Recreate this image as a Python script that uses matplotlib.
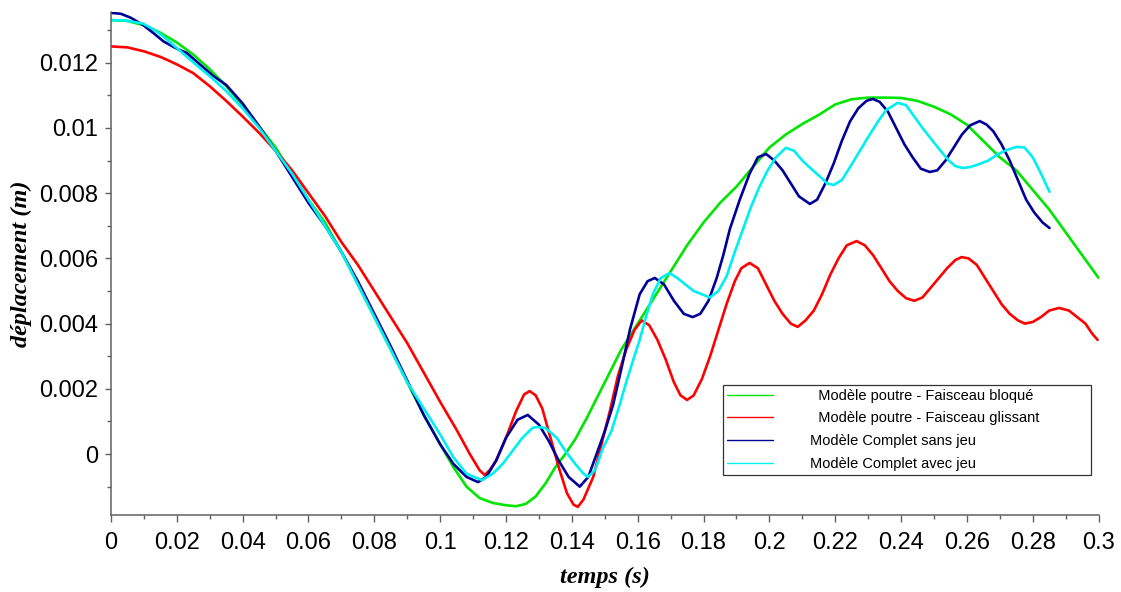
import matplotlib
matplotlib.use('Agg')
import matplotlib.pyplot as plt
from matplotlib.ticker import MultipleLocator, FuncFormatter

# Modèle poutre - Faisceau bloqué
t_bloque = [0, 0.005, 0.01, 0.015, 0.02, 0.025, 0.03, 0.035, 0.04, 0.045, 0.05, 0.055,
            0.06, 0.065, 0.07, 0.075, 0.08, 0.085, 0.09, 0.095, 0.1, 0.104, 0.108,
            0.112, 0.116, 0.12, 0.123, 0.126, 0.129, 0.132, 0.135, 0.138, 0.141,
            0.1445, 0.148, 0.1515, 0.155, 0.16, 0.165, 0.17, 0.175, 0.18, 0.185, 0.19,
            0.195, 0.2, 0.205, 0.21, 0.215, 0.22, 0.225, 0.23, 0.235, 0.24, 0.245,
            0.25, 0.255, 0.26, 0.265, 0.27, 0.275, 0.28, 0.285, 0.29, 0.295, 0.3]
y_bloque = [0.01331, 0.01328, 0.01315, 0.01292, 0.01262, 0.01225, 0.0118, 0.01128,
            0.0107, 0.01005, 0.0094, 0.0086, 0.0078, 0.0071, 0.0062, 0.0052, 0.0042,
            0.0032, 0.0022, 0.0012, 0.0003, -0.0004, -0.001, -0.00135, -0.0015,
            -0.00157, -0.0016, -0.00153, -0.0013, -0.0009, -0.0004, 0.0, 0.00045,
            0.0011, 0.0018, 0.0025, 0.0032, 0.004, 0.0048, 0.0056, 0.0064, 0.0071,
            0.0077, 0.0082, 0.0088, 0.0094, 0.0098, 0.01012, 0.0104, 0.01072, 0.01088,
            0.01093, 0.01093, 0.01092, 0.01083, 0.01065, 0.01042, 0.0101, 0.0096,
            0.0091, 0.0087, 0.0081, 0.0075, 0.0068, 0.0061, 0.0054]

# Modèle poutre - Faisceau glissant
t_glissant = [0, 0.005, 0.01, 0.015, 0.02, 0.025, 0.03, 0.035, 0.04, 0.045, 0.05, 0.055,
              0.06, 0.065, 0.07, 0.075, 0.08, 0.085, 0.09, 0.095, 0.1, 0.105, 0.109,
              0.112, 0.1135, 0.115, 0.117, 0.12, 0.123, 0.1255, 0.1272, 0.129, 0.131,
              0.1335, 0.136, 0.1385, 0.1405, 0.1418, 0.1435, 0.1465, 0.149, 0.1515,
              0.154, 0.1565, 0.159, 0.1612, 0.1635, 0.166, 0.1685, 0.171, 0.173, 0.175,
              0.177, 0.1795, 0.182, 0.1845, 0.187, 0.1895, 0.1915, 0.194, 0.1965, 0.199,
              0.2015, 0.204, 0.2065, 0.2086, 0.211, 0.2135, 0.216, 0.2185, 0.221, 0.2235,
              0.2265, 0.229, 0.2315, 0.234, 0.2365, 0.239, 0.2415, 0.244, 0.2465, 0.249,
              0.2515, 0.254, 0.2565, 0.2584, 0.2605, 0.263, 0.2655, 0.268, 0.2705,
              0.273, 0.2755, 0.2776, 0.28, 0.2825, 0.285, 0.288, 0.291, 0.2935, 0.296,
              0.298, 0.2997]
y_glissant = [0.0125, 0.01247, 0.01235, 0.01218, 0.01195, 0.01168, 0.01128, 0.01083,
              0.01035, 0.00985, 0.0093, 0.0087, 0.008, 0.0073, 0.0065, 0.0058, 0.005,
              0.0042, 0.0034, 0.0025, 0.0016, 0.00074, 0.0, -0.0005, -0.00064, -0.0005,
              -0.0002, 0.0005, 0.0013, 0.00183, 0.00193, 0.0018, 0.0014, 0.0005,
              -0.0004, -0.0012, -0.00155, -0.00162, -0.0014, -0.0007, 0.0003, 0.0013,
              0.0024, 0.0032, 0.0038, 0.0041, 0.00395, 0.0035, 0.0029, 0.0022, 0.0018,
              0.00166, 0.0018, 0.0023, 0.003, 0.0038, 0.0046, 0.0053, 0.0057, 0.00586,
              0.0057, 0.0052, 0.0047, 0.0043, 0.004, 0.0039, 0.0041, 0.0044, 0.0049,
              0.0055, 0.006, 0.0064, 0.00653, 0.0064, 0.0061, 0.0057, 0.0053, 0.005,
              0.00478, 0.0047, 0.0048, 0.0051, 0.0054, 0.0057, 0.00595, 0.00604, 0.006,
              0.0058, 0.0054, 0.005, 0.0046, 0.0043, 0.0041, 0.004, 0.00405, 0.0042,
              0.0044, 0.00448, 0.0044, 0.0042, 0.004, 0.0037, 0.0035]

# Modèle Complet sans jeu
t_sans_jeu = [0, 0.003, 0.006, 0.0097, 0.013, 0.016, 0.02, 0.023, 0.027, 0.031, 0.035,
              0.04, 0.045, 0.05, 0.055, 0.06, 0.065, 0.07, 0.075, 0.08, 0.085, 0.09,
              0.095, 0.1, 0.104, 0.108, 0.1115, 0.114, 0.117, 0.12, 0.1235, 0.1266,
              0.13, 0.133, 0.136, 0.139, 0.1424, 0.145, 0.1475, 0.15, 0.1525, 0.155,
              0.1576, 0.1606, 0.163, 0.1652, 0.168, 0.171, 0.174, 0.1767, 0.179, 0.1815,
              0.184, 0.186, 0.188, 0.191, 0.194, 0.1965, 0.199, 0.2015, 0.204, 0.2065,
              0.209, 0.2123, 0.2145, 0.217, 0.2195, 0.222, 0.2245, 0.227, 0.2295, 0.2314,
              0.2335, 0.236, 0.2385, 0.241, 0.2435, 0.246, 0.2487, 0.251, 0.2535, 0.256,
              0.2585, 0.261, 0.2639, 0.266, 0.268, 0.2705, 0.273, 0.2755, 0.278, 0.2805,
              0.283, 0.2851]
y_sans_jeu = [0.01353, 0.0135, 0.01338, 0.01316, 0.0129, 0.01265, 0.01243, 0.0123,
              0.01195, 0.0116, 0.01132, 0.01075, 0.01005, 0.0093, 0.0085, 0.0077, 0.007,
              0.0062, 0.0053, 0.0043, 0.0033, 0.00225, 0.0012, 0.0003, -0.0003, -0.0007,
              -0.00086, -0.0007, -0.0002, 0.0005, 0.00105, 0.0012, 0.0009, 0.0004,
              -0.0002, -0.0007, -0.001, -0.0007, 0.0, 0.0007, 0.0015, 0.0026, 0.0038,
              0.0049, 0.0053, 0.0054, 0.0052, 0.0047, 0.0043, 0.0042, 0.0043, 0.0047,
              0.0054, 0.0061, 0.0069, 0.0078, 0.0086, 0.0091, 0.0092, 0.009, 0.0087,
              0.0083, 0.0079, 0.00767, 0.0078, 0.0083, 0.0089, 0.0096, 0.0102, 0.0106,
              0.01083, 0.01089, 0.0108, 0.0105, 0.01, 0.0095, 0.0091, 0.00875, 0.00865,
              0.0087, 0.009, 0.0094, 0.0098, 0.01008, 0.01021, 0.0101, 0.0099, 0.0095,
              0.009, 0.0084, 0.0078, 0.0074, 0.0071, 0.00693]

# Modèle Complet avec jeu
t_avec_jeu = [0, 0.004, 0.0097, 0.013, 0.016, 0.02, 0.024, 0.027, 0.031, 0.035, 0.04,
              0.045, 0.05, 0.055, 0.06, 0.065, 0.07, 0.075, 0.08, 0.085, 0.09, 0.095,
              0.1, 0.104, 0.108, 0.1127, 0.116, 0.119, 0.122, 0.125, 0.128, 0.1294,
              0.132, 0.1354, 0.138, 0.141, 0.1435, 0.1449, 0.147, 0.1495, 0.152, 0.1545,
              0.1567, 0.159, 0.1606, 0.1625, 0.1646, 0.167, 0.1697, 0.172, 0.1745, 0.177,
              0.1795, 0.1819, 0.1845, 0.187, 0.1895, 0.192, 0.1945, 0.197, 0.1995, 0.202,
              0.205, 0.2075, 0.21, 0.2132, 0.2155, 0.2175, 0.2195, 0.222, 0.2245, 0.2275,
              0.2305, 0.233, 0.2355, 0.239, 0.2415, 0.244, 0.2465, 0.2496, 0.252, 0.2545,
              0.2565, 0.2587, 0.261, 0.264, 0.2665, 0.269, 0.272, 0.2751, 0.2775, 0.28,
              0.2825, 0.2851]
y_avec_jeu = [0.0133, 0.0133, 0.0132, 0.01302, 0.0128, 0.01245, 0.0121, 0.01184, 0.0115,
              0.01113, 0.0106, 0.01, 0.0093, 0.0086, 0.0078, 0.007, 0.0062, 0.0052,
              0.0042, 0.0032, 0.0022, 0.0014, 0.0006, -0.0001, -0.0006, -0.0008, -0.0006,
              -0.0003, 0.0001, 0.0005, 0.0008, 0.00083, 0.0008, 0.0005, 0.0001, -0.0003,
              -0.0006, -0.0007, -0.0005, 0.0002, 0.0007, 0.0015, 0.00227, 0.003, 0.0035,
              0.0042, 0.0049, 0.0054, 0.00555, 0.0054, 0.0052, 0.005, 0.0049, 0.0048,
              0.005, 0.00545, 0.0062, 0.0069, 0.0076, 0.0082, 0.0087, 0.0091, 0.00939,
              0.0093, 0.009, 0.0087, 0.0085, 0.0083, 0.00825, 0.0084, 0.0088, 0.0093,
              0.0098, 0.0102, 0.01055, 0.01077, 0.0107, 0.01035, 0.01, 0.0096, 0.0093,
              0.009, 0.00883, 0.00877, 0.0088, 0.0089, 0.009, 0.00917, 0.00932, 0.00942,
              0.0094, 0.0091, 0.0086, 0.00804]

labels = ['  Modèle poutre - Faisceau bloqué',
          '  Modèle poutre - Faisceau glissant',
          'Modèle Complet sans jeu',
          'Modèle Complet avec jeu']
colors = ['#00e600', '#ff0000', '#000099', '#00f0f0']

fig = plt.figure(figsize=(11.21, 5.92), dpi=100)
ax = fig.add_axes([0.099, 0.130, 0.881, 0.850])

series = [(t_bloque, y_bloque), (t_glissant, y_glissant),
          (t_sans_jeu, y_sans_jeu), (t_avec_jeu, y_avec_jeu)]
for (t, y), lab, col in zip(series, labels, colors):
    ax.plot(t, y, color=col, lw=1.9, label=lab, solid_joinstyle='round',
            solid_capstyle='round')

ax.set_xlim(0, 0.3)
ax.set_ylim(-0.00187, 0.01356)

for side in ['top', 'right']:
    ax.spines[side].set_visible(False)
for side in ['left', 'bottom']:
    ax.spines[side].set_color('#606060')
    ax.spines[side].set_linewidth(1.1)

ax.xaxis.set_major_locator(MultipleLocator(0.02))
ax.xaxis.set_minor_locator(MultipleLocator(0.01))
ax.yaxis.set_major_locator(MultipleLocator(0.002))
ax.yaxis.set_minor_locator(MultipleLocator(0.001))
fmt = FuncFormatter(lambda v, p: '%g' % round(v, 6))
ax.xaxis.set_major_formatter(fmt)
ax.yaxis.set_major_formatter(fmt)

ax.tick_params(which='major', direction='out', color='#606060', width=1.0,
               labelsize=17, labelcolor='black')
ax.tick_params(axis='x', which='major', length=5, pad=7)
ax.tick_params(axis='y', which='major', length=4, pad=5)
ax.tick_params(which='minor', direction='out', color='#606060', width=1.0, length=3)
for lbl in ax.get_xticklabels() + ax.get_yticklabels():
    lbl.set_family('Liberation Sans')

lab_font = dict(family='Liberation Serif', weight='bold', style='italic', size=17.5)
ax.set_xlabel('temps (s)', **lab_font)
ax.set_ylabel('déplacement (m)', **lab_font)
ax.xaxis.set_label_coords(0.5, -0.103)
ax.yaxis.set_label_coords(-0.080, 0.5)

# legend box: x 723..1091 px, top at 385 px
leg = ax.legend(loc='upper left', bbox_to_anchor=(0.645, 0.0, 0.3283, 0.3497),
                bbox_transform=fig.transFigure, mode='expand', frameon=True,
                fancybox=False, prop={'family': 'Liberation Sans', 'size': 10.5},
                handlelength=3.2, handletextpad=2.5, labelspacing=0.6,
                borderpad=0.25, borderaxespad=0)
leg.get_frame().set_edgecolor('black')
leg.get_frame().set_linewidth(0.9)
for h in leg.get_lines():
    h.set_linewidth(1.0)

fig.savefig('out.png', dpi=100)
